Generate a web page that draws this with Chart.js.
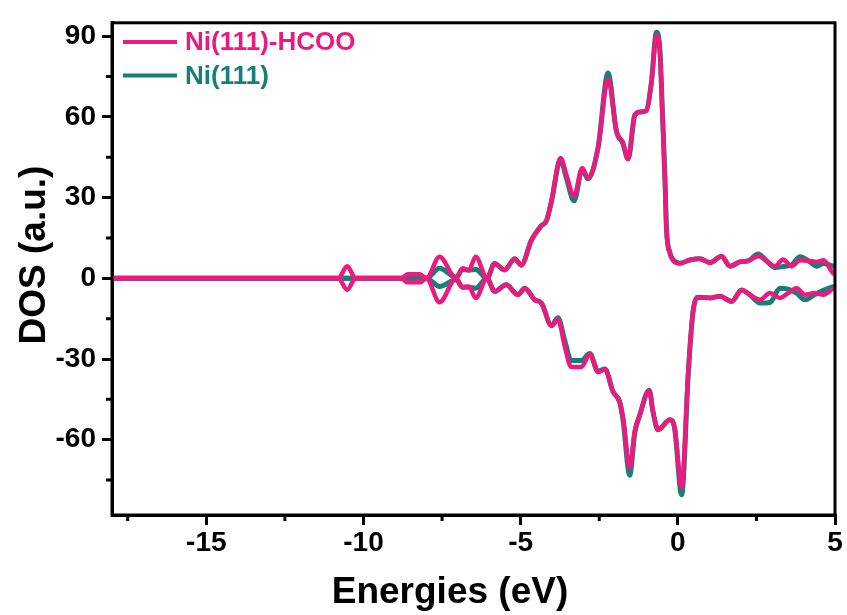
<!DOCTYPE html>
<html>
<head>
<meta charset="utf-8">
<title>DOS</title>
<script src="https://cdn.jsdelivr.net/npm/chart.js@4/dist/chart.umd.min.js"></script>
<style>
    html, body { margin: 0; padding: 0; background: #fff; }
    #wrap { width: 847px; height: 615px; position: relative; }
</style>
</head>
<body>
<div id="wrap"><canvas id="dos-chart"></canvas></div>
<script>
// --- data: spin-up (positive) and spin-down (negative) DOS vs energy ---
const energyUp = [-18, -11, -10.8, -10.52, -10.25, -9.0, -8.8, -8.6, -8.2, -8.0, -7.58, -7.05, -6.85, -6.65, -6.43, -6.07,
    -5.83, -5.51, -5.19, -4.98, -4.66, -4.34, -4.18, -4.02, -3.73, -3.55, -3.30, -3.04, -2.86, -2.54, -2.22, -1.95,
    -1.76, -1.58, -1.37, -1.21, -1.00, -0.84, -0.68, -0.57, -0.49, -0.41, -0.36, -0.25, -0.15, 0.06, 0.38, 0.70,
    1.02, 1.39, 1.66, 1.97, 2.24, 2.56, 2.82, 3.09, 3.35, 3.62, 3.89, 4.15, 4.42, 4.63, 4.95, 5.0];
const hcooUp = [0, 0, 0, 4.5, 0, 0, 0, 1.5, 1.5, 0, 8.0, 0, 3.7, 3.0, 8.0, 0,
    5.5, 3.1, 7.3, 4.9, 14.1, 19.6, 21.4, 28.8, 44.7, 38.6, 30.6, 41.0, 37.3, 48.4, 74.1, 54.5,
    50.8, 44.4, 60.6, 61.8, 62.4, 72.8, 90.3, 84.0, 60.6, 36.0, 17.7, 9.2, 6.7, 5.6, 6.8, 7.3,
    5.8, 8.2, 4.5, 6.1, 6.5, 8.2, 6.5, 4.5, 7.0, 4.5, 6.7, 6.5, 6.1, 6.7, 1.8, 1.5];
const niUp = [0, 0, 0, 0, 0, 0, 0, 0, 0, 0, 3.7, 0.4, 3.3, 3.0, 3.3, 0,
    5.5, 3.1, 7.3, 4.9, 14.1, 19.6, 21.4, 28.5, 44.2, 37.5, 28.8, 40.5, 37.0, 48.4, 76.3, 54.5,
    50.5, 44.4, 60.6, 61.8, 62.4, 73.0, 91.5, 85.0, 62.0, 37.5, 18.5, 9.5, 6.9, 5.6, 6.8, 7.3,
    5.8, 8.2, 4.5, 6.1, 6.5, 9.0, 6.5, 4.0, 4.4, 5.0, 8.0, 6.5, 4.5, 5.5, 4.5, 4.3];

const energyDown = [-18, -11, -10.8, -10.52, -10.25, -9.0, -8.8, -8.6, -8.2, -8.0, -7.58, -7.05, -6.85, -6.65, -6.43, -6.07,
    -5.83, -5.46, -5.09, -4.87, -4.55, -4.34, -4.02, -3.81, -3.60, -3.39, -3.07, -2.80, -2.54, -2.32, -2.06, -1.85,
    -1.74, -1.53, -1.37, -1.21, -0.91, -0.79, -0.63, -0.25, -0.10, 0.12, 0.33, 0.42, 0.50, 0.62, 1.02, 1.34,
    1.71, 2.03, 2.29, 2.61, 2.93, 3.25, 3.51, 3.78, 4.04, 4.36, 4.63, 4.95, 5.0];
const hcooDown = [0, 0, 0, -4.3, 0, 0, 0, -1.5, -1.5, 0, -8.9, 0, -3.3, -3.0, -7.3, 0,
    -4.9, -2.4, -6.1, -3.7, -8.0, -9.2, -17.7, -15.3, -25.1, -33.0, -33.0, -28.2, -34.9, -33.7, -42.2, -45.9,
    -52.0, -70.4, -56.9, -50.8, -41.6, -49.6, -56.3, -52.6, -55.7, -77.7, -35.0, -20.0, -11.0, -7.0, -7.3, -6.7,
    -8.6, -4.3, -6.1, -8.0, -5.5, -7.3, -5.5, -3.7, -6.1, -5.5, -6.1, -3.7, -3.5];
const niDown = [0, 0, 0, 0, 0, 0, 0, 0, 0, 0, -3.0, -0.5, -3.3, -3.3, -3.7, 0,
    -4.9, -2.4, -6.1, -3.7, -8.0, -9.2, -17.5, -14.7, -23.0, -30.6, -30.6, -28.0, -34.5, -33.7, -42.2, -46.0,
    -53.0, -73.2, -57.5, -50.8, -41.6, -49.6, -56.3, -52.6, -56.0, -80.5, -36.0, -20.5, -11.0, -7.0, -7.3, -6.7,
    -8.6, -4.3, -6.1, -9.2, -9.0, -3.7, -4.0, -5.5, -8.0, -6.0, -4.5, -3.1, -3.0];

const xTicks = [-15, -10, -5, 0, 5];
const xMinorTicks = [-17.5, -12.5, -7.5, -2.5, 2.5];
const yTicks = [-60, -30, 0, 30, 60, 90];
const yMinorTicks = [-75, -45, -15, 15, 45, 75];

const PINK = '#ea1a7f';
const TEAL = '#177f7b';
const FONT = "'Liberation Sans', Arial, sans-serif";

function toPoints(xs, ys) {
    return xs.map(function (x, i) { return { x: x, y: ys[i] }; });
}

// box frame + minor ticks on bottom/left axes
const framePlugin = {
    id: 'frame',
    afterDraw: function (chart) {
        const ctx = chart.ctx;
        const a = chart.chartArea;
        const xs = chart.scales.x;
        const ys = chart.scales.y;
        ctx.save();
        ctx.strokeStyle = '#000';
        ctx.lineWidth = 3;
        ctx.strokeRect(a.left, a.top, a.right - a.left, a.bottom - a.top);
        ctx.beginPath();
        xMinorTicks.forEach(function (v) {
            const px = xs.getPixelForValue(v);
            ctx.moveTo(px, a.bottom);
            ctx.lineTo(px, a.bottom + 6);
        });
        yMinorTicks.forEach(function (v) {
            const py = ys.getPixelForValue(v);
            ctx.moveTo(a.left, py);
            ctx.lineTo(a.left - 6, py);
        });
        ctx.stroke();
        ctx.restore();
    }
};

// axis titles
const titlePlugin = {
    id: 'axisTitles',
    afterDraw: function (chart) {
        const ctx = chart.ctx;
        ctx.save();
        ctx.fillStyle = '#000';
        ctx.font = 'bold 37px ' + FONT;
        ctx.textAlign = 'center';
        ctx.textBaseline = 'alphabetic';
        ctx.fillText('Energies (eV)', 450, 603);
        ctx.translate(45, 255);
        ctx.rotate(-Math.PI / 2);
        ctx.fillText('DOS (a.u.)', 0, 0);
        ctx.restore();
    }
};

// legend inside the plot, top-left
const legendPlugin = {
    id: 'insideLegend',
    afterDraw: function (chart) {
        const ctx = chart.ctx;
        const items = chart.data.datasets.filter(function (d) { return d.label; });
        ctx.save();
        ctx.font = 'bold 26px ' + FONT;
        ctx.textAlign = 'left';
        ctx.textBaseline = 'alphabetic';
        items.forEach(function (d, i) {
            const y = 42 + i * 33.5;
            ctx.strokeStyle = d.borderColor;
            ctx.lineWidth = 4;
            ctx.beginPath();
            ctx.moveTo(123, y);
            ctx.lineTo(177, y);
            ctx.stroke();
            ctx.fillStyle = d.borderColor;
            ctx.fillText(d.label, 185, y + 8);
        });
        ctx.restore();
    }
};

function lineSet(label, pts, color, width) {
    return {
        label: label,
        data: pts,
        borderColor: color,
        backgroundColor: color,
        borderWidth: width,
        pointRadius: 0,
        cubicInterpolationMode: 'monotone',
        fill: false
    };
}

const axisTicks = {
    color: '#000',
    font: { family: FONT, size: 28, weight: 'bold' },
    maxRotation: 0,
    autoSkip: false
};

new Chart(document.getElementById('dos-chart'), {
    type: 'line',
    data: {
        datasets: [
            lineSet('Ni(111)-HCOO', toPoints(energyUp, hcooUp), PINK, 4.5),
            lineSet('', toPoints(energyDown, hcooDown), PINK, 4.5),
            lineSet('Ni(111)', toPoints(energyUp, niUp), TEAL, 5),
            lineSet('', toPoints(energyDown, niDown), TEAL, 5)
        ]
    },
    options: {
        responsive: true,
        maintainAspectRatio: false,
        animation: false,
        devicePixelRatio: 1,
        layout: { padding: { top: 16, right: 12, left: 0, bottom: 0 } },
        plugins: {
            legend: { display: false },
            tooltip: { enabled: false }
        },
        scales: {
            x: {
                type: 'linear',
                min: -18,
                max: 5,
                afterBuildTicks: function (s) { s.ticks = xTicks.map(function (v) { return { value: v }; }); },
                afterFit: function (s) { s.height = 100; },
                grid: { drawOnChartArea: false, tickLength: 10, tickWidth: 3, tickColor: '#000', color: '#000', lineWidth: 3 },
                border: { display: true, color: '#000', width: 3 },
                ticks: Object.assign({ padding: 1 }, axisTicks)
            },
            y: {
                min: -88,
                max: 95,
                afterBuildTicks: function (s) { s.ticks = yTicks.map(function (v) { return { value: v }; }); },
                afterFit: function (s) { s.width = 112; },
                grid: { drawOnChartArea: false, tickLength: 10, tickWidth: 3, tickColor: '#000', color: '#000', lineWidth: 3 },
                border: { display: true, color: '#000', width: 3 },
                ticks: Object.assign({ padding: 6 }, axisTicks)
            }
        }
    },
    plugins: [framePlugin, titlePlugin, legendPlugin]
});
</script>
</body>
</html>
